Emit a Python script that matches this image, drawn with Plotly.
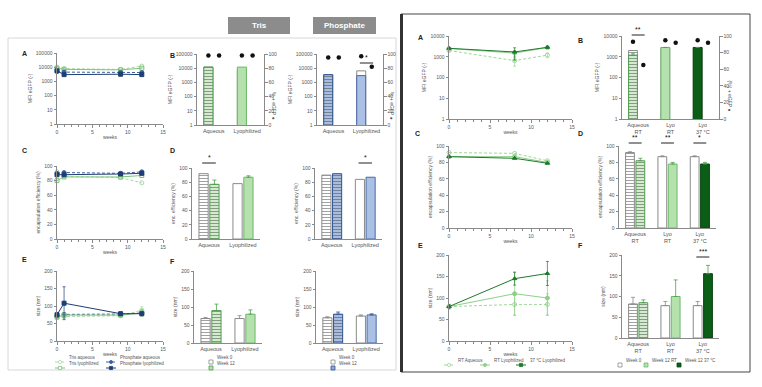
import plotly.graph_objects as go

W, H = 762, 387

# ---------------- data ----------------
weeks_left = [0, 1, 9, 12]
mfi_tris_aq = [10000, 8000, 7000, 12000]
mfi_phos_aq = [5000, 4500, 4300, 4200]
mfi_tris_lyo = [8500, 7000, 6500, 8500]
mfi_phos_lyo = [5500, 3000, 3200, 3000]
ee_tris_aq = [92, 86, 84, 77]
ee_phos_aq = [90, 91, 90, 92]
ee_tris_lyo = [80, 85, 85, 87]
ee_phos_lyo = [88, 88, 89, 90]
size_tris_aq = [68, 70, 72, 88]
size_phos_aq = [72, 76, 77, 80]
size_tris_lyo = [68, 74, 74, 80]
size_phos_lyo = [75, 108, 78, 78]
size_tris_aq_err = [3, 5, 5, 10]
size_phos_aq_err = [3, 4, 4, 5]
size_tris_lyo_err = [3, 5, 5, 10]
size_phos_lyo_err = [6, 47, 4, 4]

formulations = ["Aqueous", "Lyophilized"]
tris_mfi_w0 = [12000, 8000]
tris_mfi_w12 = [12000, 12000]
tris_pct_w0 = [98, 98]
tris_pct_w12 = [98, 98]
phos_mfi_w0 = [3500, 6500]
phos_mfi_w12 = [3500, 3000]
phos_pct_w0 = [95, 97]
phos_pct_w12 = [95, 82]
tris_ee_w0 = [92, 78]
tris_ee_w12 = [77, 87]
tris_ee_w12_err = [6, 2]
phos_ee_w0 = [90, 84]
phos_ee_w12 = [92, 87]
tris_size_w0 = [68, 68]
tris_size_w0_err = [3, 8]
tris_size_w12 = [90, 80]
tris_size_w12_err = [18, 12]
phos_size_w0 = [70, 75]
phos_size_w0_err = [3, 3]
phos_size_w12 = [80, 78]
phos_size_w12_err = [6, 3]

weeks_right = [0, 8, 12]
mfi_rt_aq = [2000, 650, 1200]
mfi_rt_aq_err = [200, 300, 300]
mfi_rt_lyo = [2500, 1500, 2800]
mfi_rt_lyo_err = [200, 500, 300]
mfi_37_lyo = [2550, 1700, 2850]
mfi_37_lyo_err = [200, 1000, 300]
ee_rt_aq = [92, 91, 82]
ee_rt_lyo = [87, 87, 80]
ee_37_lyo = [87, 85, 79]
size_rt_aq = [80, 85, 85]
size_rt_aq_err = [5, 25, 25]
size_rt_lyo = [80, 110, 100]
size_rt_lyo_err = [5, 50, 40]
size_37_lyo = [80, 145, 157]
size_37_lyo_err = [5, 15, 28]

conditions = ["Aqueous<br>RT", "Lyo<br>RT", "Lyo<br>37 °C"]
r_mfi_w0 = [2000, 2800, 2800]
r_mfi_w12 = [1200, 2800, 2800]
r_mfi_w12_err = [300, 0, 0]
r_pct_w0 = [93, 95, 95]
r_pct_w12 = [65, 92, 92]
r_ee_w0 = [92, 87, 87]
r_ee_w0_err = [1, 1, 1]
r_ee_w12 = [82, 78, 78]
r_ee_w12_err = [3, 2, 2]
r_size_w0 = [82, 78, 78]
r_size_w0_err = [16, 10, 10]
r_size_w12 = [85, 100, 155]
r_size_w12_err = [7, 40, 20]

# ---------------- helpers ----------------
def fx(p): return p / W
def fy(p): return 1 - p / H

FONT = "Liberation Sans, Arial, sans-serif"
AX = '#8a8a8a'
TXT = '#555555'

fig = go.Figure()
layout = {}
annotations = []
shapes = []
cnt = {'x': 0, 'y': 0}

def _name(k, n): return (k + 'axis') if n == 1 else f'{k}axis{n}'
def _ref(k, n): return k if n == 1 else f'{k}{n}'

def T(text, standoff=3):
    return dict(text=text, font=dict(size=5, color=TXT, family=FONT), standoff=standoff)

def axis(**kw):
    a = dict(showline=True, linecolor=AX, linewidth=1, ticks='outside', ticklen=2.5,
             tickwidth=1, tickcolor=AX, tickfont=dict(size=5, color=TXT, family=FONT),
             showgrid=False, zeroline=False, automargin=False)
    a.update(kw)
    return a

def panel(x0, x1, yt, yb, xkw, ykw):
    cnt['x'] += 1; cnt['y'] += 1
    xr, yr = _ref('x', cnt['x']), _ref('y', cnt['y'])
    layout[_name('x', cnt['x'])] = axis(domain=[fx(x0), fx(x1)], anchor=yr, **xkw)
    layout[_name('y', cnt['y'])] = axis(domain=[fy(yb), fy(yt)], anchor=xr, **ykw)
    return xr, yr

def right_axis(xr, yr, **kw):
    cnt['y'] += 1
    r = _ref('y', cnt['y'])
    layout[_name('y', cnt['y'])] = axis(overlaying=yr, side='right', anchor=xr, **kw)
    return r

LINEX = dict(range=[0, 15], tickvals=[0, 5, 10, 15],
             minor=dict(ticks='outside', dtick=1, ticklen=1.5, tickcolor=AX))
LOGY = dict(type='log', range=[0, 5], tickvals=[1, 10, 100, 1000, 10000, 100000],
            ticktext=['1', '10', '100', '1000', '10000', '100000'])
LOGY4 = dict(type='log', range=[0, 4], tickvals=[1, 10, 100, 1000, 10000],
             ticktext=['1', '10', '100', '1000', '10000'])
PCTY = dict(range=[0, 100], tickvals=[0, 20, 40, 60, 80, 100])
SIZEY = dict(range=[0, 200], tickvals=[0, 50, 100, 150, 200])
CATX = dict(type='category', ticks='', tickfont=dict(size=5.5, color=TXT, family=FONT))

def line(xr, yr, x, y, name, color, dash, symbol, err=None):
    t = go.Scatter(x=x, y=y, name=name, mode='lines+markers', xaxis=xr, yaxis=yr,
                   line=dict(color=color, width=1, dash=dash),
                   marker=dict(symbol=symbol, size=4, color=color, line=dict(color=color, width=1)),
                   offsetgroup='lines', showlegend=False, cliponaxis=False)
    if err:
        t.error_y = dict(type='data', array=err, color=color, thickness=0.7, width=1.5)
    fig.add_trace(t)

HATCH_GRAY = dict(bg='white', fg='#8a8a8a', shape='-', line='#8a8a8a')
WHITE = dict(bg='white', fg='#8a8a8a', shape='', line='#8a8a8a')
HATCH_GREEN = dict(bg='#d3ecce', fg='#4f9f4f', shape='-', line='#4f9f4f')
LGREEN = dict(bg='#b5e1ac', fg='#6cb86c', shape='', line='#6cb86c')
HATCH_BLUE = dict(bg='#a7bde2', fg='#2f538f', shape='-', line='#2f538f')
LBLUE = dict(bg='#aac0e4', fg='#4a6aa5', shape='', line='#4a6aa5')
DGREEN = dict(bg='#0b5e16', fg='#0b5e16', shape='', line='#084410')

def bars(xr, yr, cats, y, styles, name, err=None, errcolor=AX):
    t = go.Bar(x=cats, y=y, name=name, xaxis=xr, yaxis=yr, showlegend=False,
               marker=dict(color=[s['bg'] for s in styles],
                           line=dict(color=[s['line'] for s in styles], width=1),
                           pattern=dict(shape=[s['shape'] for s in styles],
                                        fgcolor=[s['fg'] for s in styles],
                                        size=3, solidity=0.35, fillmode='overlay')))
    if err:
        t.error_y = dict(type='data', symmetric=False, array=err, arrayminus=[0] * len(err),
                         color=errcolor, thickness=0.8, width=2)
    fig.add_trace(t)

def dots(xr, yr, cats, y, group):
    fig.add_trace(go.Scatter(x=cats, y=y, mode='markers', xaxis=xr, yaxis=yr, showlegend=False,
                             offsetgroup=group, cliponaxis=False,
                             marker=dict(symbol='circle', size=4.5, color='#111')))

def sig(xr, x0, x1, ypx, text):
    shapes.append(dict(type='line', xref=xr, yref='paper', x0=x0, x1=x1, y0=fy(ypx), y1=fy(ypx),
                       line=dict(color='#222', width=1)))
    annotations.append(dict(xref=xr, yref='paper', x=(x0 + x1) / 2, y=fy(ypx - 0.5), text=text,
                            showarrow=False, yanchor='bottom', font=dict(size=7, color='#111', family=FONT)))

def label(xpx, ypx, text, size=7, color='#222', **kw):
    annotations.append(dict(xref='paper', yref='paper', x=fx(xpx), y=fy(ypx), text=text,
                            showarrow=False, font=dict(size=size, color=color, family=FONT), **kw))

def prect(x0, y0, x1, y1, **kw):
    shapes.append(dict(type='rect', xref='paper', yref='paper', x0=fx(x0), x1=fx(x1), y0=fy(y1), y1=fy(y0), **kw))

def key_line(xpx, ypx, color, dash, symbol, text):
    shapes.append(dict(type='line', xref='paper', yref='paper', x0=fx(xpx - 5), x1=fx(xpx + 5), y0=fy(ypx), y1=fy(ypx),
                       line=dict(color=color, width=1, dash='dot' if dash != 'solid' else 'solid')))
    fill = 'white' if 'open' in symbol else color
    kind = 'rect' if 'square' in symbol or 'triangle' in symbol else 'circle'
    shapes.append(dict(type=kind, xref='paper', yref='paper', x0=fx(xpx - 1.6), x1=fx(xpx + 1.6),
                       y0=fy(ypx + 1.6), y1=fy(ypx - 1.6), fillcolor=fill, line=dict(color=color, width=0.8)))
    annotations.append(dict(xref='paper', yref='paper', x=fx(xpx + 6.5), y=fy(ypx), text=text, xanchor='left',
                            showarrow=False, font=dict(size=4.5, color=TXT, family=FONT)))

def key_box(xpx, ypx, fill, edge, text):
    prect(xpx - 2, ypx - 2, xpx + 2, ypx + 2, fillcolor=fill, line=dict(color=edge, width=0.8))
    annotations.append(dict(xref='paper', yref='paper', x=fx(xpx + 4), y=fy(ypx), text=text, xanchor='left',
                            showarrow=False, font=dict(size=4.5, color=TXT, family=FONT)))

# colours for lines
C_TRIS_AQ, C_TRIS_LYO = '#a9d9a3', '#7cc47a'
C_PHOS_AQ, C_PHOS_LYO = '#3a5f9e', '#1f3d75'
C_RT_AQ, C_RT_LYO, C_37 = '#9fd79a', '#8fcf8a', '#1d7a2a'

# ================= LEFT FIGURE =================
# A
xr, yr = panel(57, 163, 53, 124, dict(LINEX, title=T('weeks', 1)), dict(LOGY, title=T('MFI eGFP (-)')))
line(xr, yr, weeks_left, mfi_tris_aq, 'Tris aqueous', C_TRIS_AQ, '3px,2px', 'circle-open')
line(xr, yr, weeks_left, mfi_tris_lyo, 'Tris lyophilized', C_TRIS_LYO, 'solid', 'square-open')
line(xr, yr, weeks_left, mfi_phos_aq, 'Phosphate aqueous', C_PHOS_AQ, '3px,2px', 'circle')
line(xr, yr, weeks_left, mfi_phos_lyo, 'Phosphate lyophilized', C_PHOS_LYO, 'solid', 'square')

# B Tris
xr, yr = panel(197, 264, 54, 125, CATX, dict(LOGY, title=T('MFI eGFP (-)')))
yr2 = right_axis(xr, yr, **PCTY)
bars(xr, yr, formulations, tris_mfi_w0, [HATCH_GRAY, WHITE], 'Week 0')
bars(xr, yr, formulations, tris_mfi_w12, [HATCH_GREEN, LGREEN], 'Week 12')
dots(xr, yr2, formulations, tris_pct_w0, 'a')
dots(xr, yr2, formulations, tris_pct_w12, 'b')
label(274, 90, '% + eGFP ●', size=5, color=TXT, textangle=90)

# B Phosphate
xr, yr = panel(317, 383, 54, 125, CATX, dict(LOGY, title=T('MFI eGFP (-)')))
yr2 = right_axis(xr, yr, **PCTY)
bars(xr, yr, formulations, phos_mfi_w0, [HATCH_GRAY, WHITE], 'Week 0')
bars(xr, yr, formulations, phos_mfi_w12, [HATCH_BLUE, LBLUE], 'Week 12')
dots(xr, yr2, formulations, phos_pct_w0, 'a')
dots(xr, yr2, formulations, phos_pct_w12, 'b')
sig(xr, 0.8, 1.2, 63, '*')
label(392, 90, '% + eGFP ●', size=5, color=TXT, textangle=90)

# C
xr, yr = panel(57, 163, 166, 239, dict(LINEX, title=T('weeks', 1)), dict(PCTY, title=T('encapsulation efficiency (%)')))
line(xr, yr, weeks_left, ee_tris_aq, 'Tris aqueous', C_TRIS_AQ, '3px,2px', 'circle-open')
line(xr, yr, weeks_left, ee_tris_lyo, 'Tris lyophilized', C_TRIS_LYO, 'solid', 'square-open')
line(xr, yr, weeks_left, ee_phos_aq, 'Phosphate aqueous', C_PHOS_AQ, '3px,2px', 'circle')
line(xr, yr, weeks_left, ee_phos_lyo, 'Phosphate lyophilized', C_PHOS_LYO, 'solid', 'square')

# D Tris
xr, yr = panel(192, 260, 168, 239, CATX, dict(PCTY, title=T('enc. efficiency (%)')))
bars(xr, yr, formulations, tris_ee_w0, [HATCH_GRAY, WHITE], 'Week 0')
bars(xr, yr, formulations, tris_ee_w12, [HATCH_GREEN, LGREEN], 'Week 12', err=tris_ee_w12_err, errcolor='#4f9f4f')
sig(xr, -0.2, 0.2, 163, '*')

# D Phosphate
xr, yr = panel(315, 382, 168, 239, CATX, dict(PCTY, title=T('enc. efficiency (%)')))
bars(xr, yr, formulations, phos_ee_w0, [HATCH_GRAY, WHITE], 'Week 0')
bars(xr, yr, formulations, phos_ee_w12, [HATCH_BLUE, LBLUE], 'Week 12')
sig(xr, 0.8, 1.2, 163, '*')

# E
xr, yr = panel(57, 163, 271, 341, dict(LINEX, title=T('weeks', 1)), dict(SIZEY, title=T('size (nm)')))
line(xr, yr, weeks_left, size_tris_aq, 'Tris aqueous', C_TRIS_AQ, '3px,2px', 'circle-open', size_tris_aq_err)
line(xr, yr, weeks_left, size_phos_aq, 'Phosphate aqueous', C_PHOS_AQ, '3px,2px', 'circle', size_phos_aq_err)
line(xr, yr, weeks_left, size_tris_lyo, 'Tris lyophilized', C_TRIS_LYO, 'solid', 'square-open', size_tris_lyo_err)
line(xr, yr, weeks_left, size_phos_lyo, 'Phosphate lyophilized', C_PHOS_LYO, 'solid', 'square', size_phos_lyo_err)
key_line(60, 362, C_TRIS_AQ, 'dash', 'circle-open', 'Tris aqueous')
key_line(111, 362, C_PHOS_AQ, 'dash', 'circle', 'Phosphate aqueous')
key_line(60, 368, C_TRIS_LYO, 'solid', 'square-open', 'Tris lyophilized')
key_line(111, 368, C_PHOS_LYO, 'solid', 'square', 'Phosphate lyophilized')

# F Tris
xr, yr = panel(194, 262, 271, 343, CATX, dict(SIZEY, title=T('size (nm)')))
bars(xr, yr, formulations, tris_size_w0, [HATCH_GRAY, WHITE], 'Week 0', err=tris_size_w0_err)
bars(xr, yr, formulations, tris_size_w12, [HATCH_GREEN, LGREEN], 'Week 12', err=tris_size_w12_err, errcolor='#4f9f4f')
key_box(211, 362, 'white', '#8a8a8a', 'Week 0')
key_box(211, 368, '#b5e1ac', '#4f9f4f', 'Week 12')

# F Phosphate
xr, yr = panel(316, 383, 271, 343, CATX, dict(SIZEY, title=T('size (nm)')))
bars(xr, yr, formulations, phos_size_w0, [HATCH_GRAY, WHITE], 'Week 0', err=phos_size_w0_err)
bars(xr, yr, formulations, phos_size_w12, [HATCH_BLUE, LBLUE], 'Week 12', err=phos_size_w12_err, errcolor='#2f538f')
key_box(333, 362, 'white', '#8a8a8a', 'Week 0')
key_box(333, 368, '#8faad8', '#2f538f', 'Week 12')

# ================= RIGHT FIGURE =================
# A
xr, yr = panel(449, 572, 36, 119, dict(LINEX, title=T('weeks', 1)), dict(LOGY4, title=T('MFI eGFP (-)')))
line(xr, yr, weeks_right, mfi_rt_aq, 'RT Aqueous', C_RT_AQ, '3px,2px', 'circle-open', mfi_rt_aq_err)
line(xr, yr, weeks_right, mfi_rt_lyo, 'RT Lyophilized', C_RT_LYO, 'solid', 'circle', mfi_rt_lyo_err)
line(xr, yr, weeks_right, mfi_37_lyo, '37 °C Lyophilized', C_37, 'solid', 'triangle-up', mfi_37_lyo_err)

# B
xr, yr = panel(622, 719, 36, 119, CATX, dict(LOGY4, title=T('MFI eGFP (-)')))
yr2 = right_axis(xr, yr, **PCTY)
bars(xr, yr, conditions, r_mfi_w0, [HATCH_GRAY, WHITE, WHITE], 'Week 0')
bars(xr, yr, conditions, r_mfi_w12, [HATCH_GREEN, LGREEN, DGREEN], 'Week 12', err=r_mfi_w12_err, errcolor='#4f9f4f')
dots(xr, yr2, conditions, r_pct_w0, 'a')
dots(xr, yr2, conditions, r_pct_w12, 'b')
sig(xr, -0.2, 0.2, 35, '**')
label(735, 78, '(%) + eGFP ●', size=5, color=TXT, textangle=90)

# C
xr, yr = panel(449, 572, 146, 228, dict(LINEX, title=T('weeks', 1)), dict(PCTY, title=T('encapsulation efficiency (%)')))
line(xr, yr, weeks_right, ee_rt_aq, 'RT Aqueous', C_RT_AQ, '3px,2px', 'circle-open')
line(xr, yr, weeks_right, ee_rt_lyo, 'RT Lyophilized', C_RT_LYO, 'solid', 'circle')
line(xr, yr, weeks_right, ee_37_lyo, '37 °C Lyophilized', C_37, 'solid', 'triangle-up')

# D
xr, yr = panel(619, 716, 146, 228, CATX, dict(PCTY, title=T('encapsulation efficiency (%)')))
bars(xr, yr, conditions, r_ee_w0, [HATCH_GRAY, WHITE, WHITE], 'Week 0', err=r_ee_w0_err)
bars(xr, yr, conditions, r_ee_w12, [HATCH_GREEN, LGREEN, DGREEN], 'Week 12', err=r_ee_w12_err, errcolor='#4f9f4f')
sig(xr, -0.2, 0.2, 143, '**')
sig(xr, 0.8, 1.2, 143, '**')
sig(xr, 1.8, 2.2, 143, '*')

# E
xr, yr = panel(449, 572, 255, 341, dict(LINEX, title=T('weeks', 1)), dict(SIZEY, title=T('size (nm)')))
line(xr, yr, weeks_right, size_rt_aq, 'RT Aqueous', C_RT_AQ, '3px,2px', 'circle-open', size_rt_aq_err)
line(xr, yr, weeks_right, size_rt_lyo, 'RT Lyophilized', C_RT_LYO, 'solid', 'circle', size_rt_lyo_err)
line(xr, yr, weeks_right, size_37_lyo, '37 °C Lyophilized', C_37, 'solid', 'triangle-up', size_37_lyo_err)
key_line(449, 365, C_RT_AQ, 'dash', 'circle-open', 'RT Aqueous')
key_line(485, 365, C_RT_LYO, 'solid', 'circle', 'RT Lyophilized')
key_line(521, 365, C_37, 'solid', 'triangle-up', '37 °C Lyophilized')

# F
xr, yr = panel(622, 719, 255, 338, CATX, dict(SIZEY, title=T('size (nm)')))
bars(xr, yr, conditions, r_size_w0, [HATCH_GRAY, WHITE, WHITE], 'Week 0', err=r_size_w0_err)
bars(xr, yr, conditions, r_size_w12, [HATCH_GREEN, LGREEN, DGREEN], 'Week 12', err=r_size_w12_err, errcolor='#4f9f4f')
sig(xr, 1.8, 2.2, 257, '***')
key_box(620, 365, 'white', '#8a8a8a', 'Week 0')
key_box(646, 365, '#b5e1ac', '#6cb86c', 'Week 12 RT')
key_box(679, 365, '#0b5e16', '#084410', 'Week 12 37 °C')

# ---------- panel letters, headers, frames ----------
for (xp, yp, t) in [(20, 48, 'A'), (168, 50, 'B'), (20, 150, 'C'), (168, 150, 'D'), (20, 265, 'E'), (168, 267, 'F'),
                    (420, 32, 'A'), (585, 35, 'B'), (417, 128, 'C'), (585, 128, 'D'), (420, 245, 'E'), (585, 245, 'F')]:
    label(xp, yp, '<b>' + t + '</b>', size=7)

for (x0, x1, t) in [(228, 290, 'Tris'), (313, 376, 'Phosphate')]:
    prect(x0, 17, x1, 34, fillcolor='#8c8c8c', line=dict(width=0), layer='below')
    annotations.append(dict(xref='paper', yref='paper', x=fx((x0 + x1) / 2), y=fy(25.5), text='<b>' + t + '</b>',
                            showarrow=False, xanchor='center', yanchor='middle',
                            font=dict(size=8, color='white', family=FONT)))

prect(8, 38, 396, 370, line=dict(color='#d8d8d8', width=1), layer='below')
prect(401, 14, 750, 372, line=dict(color='#444', width=1), layer='below')
shapes.append(dict(type='line', xref='paper', yref='paper', x0=fx(401.5), x1=fx(401.5), y0=fy(372), y1=fy(14),
                   line=dict(color='#333', width=3), layer='below'))

layout.update(width=W, height=H, margin=dict(l=0, r=0, t=0, b=0, autoexpand=False), paper_bgcolor='white',
              plot_bgcolor='rgba(0,0,0,0)', barmode='group', bargap=0.36, bargroupgap=0.15,
              scattermode='group', scattergap=0.36, font=dict(family=FONT, size=5, color=TXT),
              annotations=annotations, shapes=shapes, showlegend=False, hovermode=False)
fig.update_layout(**layout)
fig.write_html("out.html", config={'displayModeBar': False},
               post_script="document.body.style.margin='0px';document.body.style.overflow='hidden';")
